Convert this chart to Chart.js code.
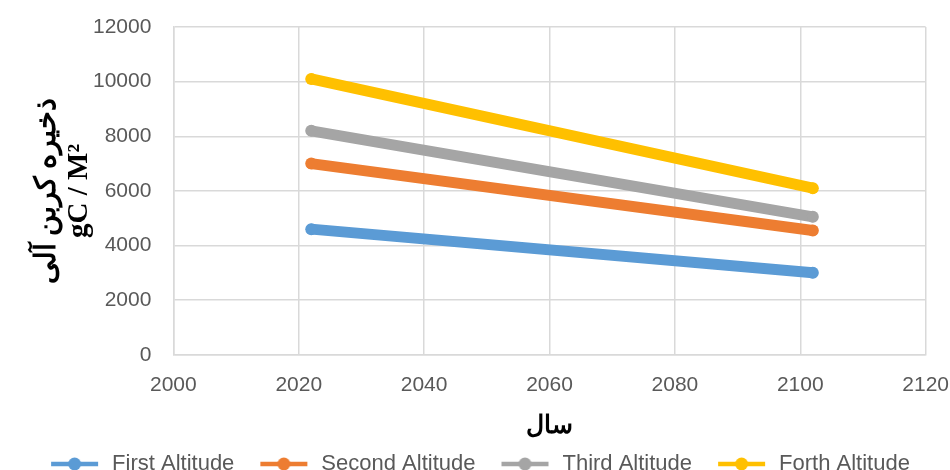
<!DOCTYPE html>
<html>
<head>
<meta charset="utf-8">
<script src="https://cdn.jsdelivr.net/npm/chart.js@4/dist/chart.umd.min.js"></script>
<style>
  html, body { margin: 0; padding: 0; background: #fff; overflow: hidden; width: 950px; height: 470px; }
  #wrap { width: 967px; height: 485px; }
</style>
</head>
<body>
<div id="wrap"><canvas id="c" width="967" height="485"></canvas></div>
<script>
const seriesNames = ["First Altitude", "Second Altitude", "Third Altitude", "Forth Altitude"];
const years = [2022, 2102];
const firstAltitude = [4600, 3000];
const secondAltitude = [7000, 4550];
const thirdAltitude = [8200, 5050];
const forthAltitude = [10100, 6100];
const xTicks = [2000, 2020, 2040, 2060, 2080, 2100, 2120];
const yTicks = [0, 2000, 4000, 6000, 8000, 10000, 12000];
const colors = ["#5B9BD5", "#ED7D31", "#A5A5A5", "#FFC000"];
const yTitle = ["ذخیره کربن آلی", "gC / M²"];
const xTitle = "سال";

const allValues = [firstAltitude, secondAltitude, thirdAltitude, forthAltitude];

function legendIcon(color) {
  const cv = document.createElement('canvas');
  cv.width = 64; cv.height = 14;
  const g = cv.getContext('2d');
  g.strokeStyle = color; g.lineWidth = 4.5; g.lineCap = 'butt';
  g.beginPath(); g.moveTo(14, 7); g.lineTo(61, 7); g.stroke();
  g.fillStyle = color;
  g.beginPath(); g.arc(37.5, 7, 6.5, 0, Math.PI * 2); g.fill();
  return cv;
}
const icons = colors.map(legendIcon);

const datasets = allValues.map((vals, i) => ({
  label: seriesNames[i],
  data: years.map((y, k) => ({ x: y, y: vals[k] })),
  borderColor: colors[i],
  backgroundColor: colors[i],
  borderWidth: 11,
  borderCapStyle: 'round',
  borderJoinStyle: 'round',
  pointRadius: 6,
  pointBorderWidth: 0,
  pointHoverRadius: 6,
  showLine: true,
  fill: false,
  tension: 0,
  order: 4 - i
}));

const tickFont = { family: "'Liberation Sans', Arial, sans-serif", size: 21 };

new Chart(document.getElementById('c'), {
  type: 'scatter',
  data: { datasets },
  options: {
    responsive: false,
    animation: false,
    devicePixelRatio: 1,
    layout: { padding: { left: 2, right: 22, top: 27, bottom: 0 } },
    plugins: {
      tooltip: { enabled: false },
      legend: {
        position: 'bottom',
        labels: {
          usePointStyle: true,
          pointStyleWidth: 64,
          padding: 12,
          color: '#595959',
          font: { family: "'Liberation Sans', Arial, sans-serif", size: 22 },
          generateLabels: (chart) => chart.data.datasets.map((ds, i) => ({
            text: ds.label,
            fillStyle: colors[i],
            strokeStyle: colors[i],
            lineWidth: 0,
            pointStyle: icons[i],
            fontColor: '#595959',
            hidden: false,
            datasetIndex: i
          }))
        }
      }
    },
    scales: {
      x: {
        type: 'linear',
        min: xTicks[0],
        max: xTicks[xTicks.length - 1],
        afterBuildTicks: (axis) => { axis.ticks = xTicks.map(v => ({ value: v })); },
        afterFit: (axis) => { axis.height -= 5; },
        ticks: { color: '#595959', font: tickFont, padding: 18, maxRotation: 0, callback: v => String(v) },
        grid: { color: '#d9d9d9', lineWidth: 1.5, drawTicks: false },
        border: { color: '#d9d9d9', width: 1.5 },
        title: {
          display: true,
          text: xTitle,
          color: '#000',
          font: { family: "'DejaVu Serif', 'Liberation Serif', serif", size: 25, weight: 'bold' },
          padding: { top: 0, bottom: 0 }
        }
      },
      y: {
        type: 'linear',
        min: yTicks[0],
        max: yTicks[yTicks.length - 1],
        afterBuildTicks: (axis) => { axis.ticks = yTicks.map(v => ({ value: v })); },
        afterFit: (axis) => { axis.width -= 29; axis.paddingTop = 0; },
        ticks: { color: '#595959', font: tickFont, padding: 22, callback: v => String(v) },
        grid: { color: '#d9d9d9', lineWidth: 1.5, drawTicks: false },
        border: { color: '#d9d9d9', width: 1.5 },
        title: {
          display: true,
          text: yTitle,
          color: '#000',
          font: { family: "'Liberation Serif', 'DejaVu Serif', serif", size: 29, weight: 'bold', lineHeight: 1.12 },
          padding: { top: 29, bottom: 4 }
        }
      }
    }
  }
});
</script>
</body>
</html>
